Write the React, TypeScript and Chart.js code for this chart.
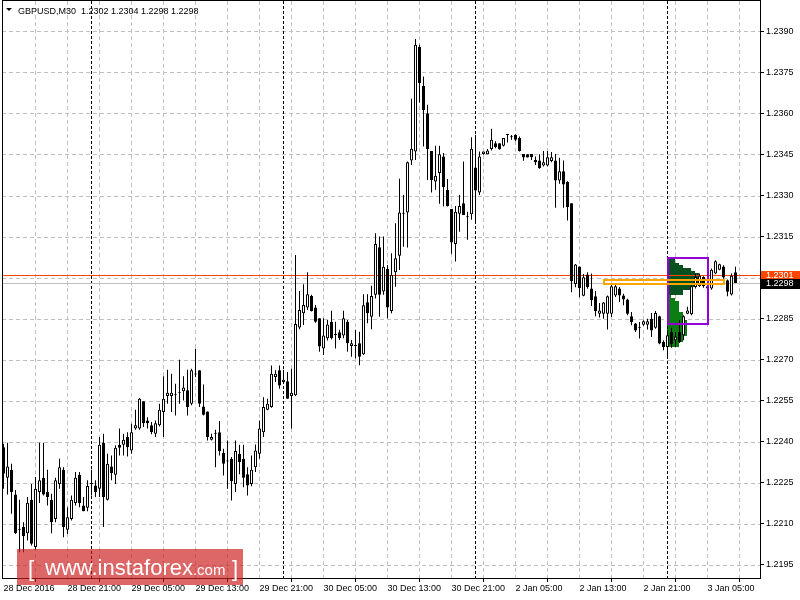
import React, { useEffect, useRef } from 'react';
import { Chart, registerables } from 'chart.js';

Chart.register(...registerables);

// ---- candle data (M30 bars, 28 Dec 13:00 → 3 Jan 08:30) ----
const opens = [
  1.2238, 1.22268, 1.22298, 1.22207, 1.22078, 1.22088, 1.22066, 1.22188, 1.22015, 1.22216,
  1.22268, 1.22216, 1.22188, 1.22118, 1.22246, 1.22298, 1.22078, 1.22118, 1.22176, 1.22279,
  1.22167, 1.22159, 1.22246, 1.2224, 1.22228, 1.22396, 1.22188, 1.2231, 1.22279, 1.22389,
  1.22389, 1.22417, 1.22368, 1.22448, 1.22448, 1.22548, 1.22478, 1.2246, 1.22429, 1.2246,
  1.22509, 1.22567, 1.22567, 1.2257, 1.22579, 1.22585, 1.22588, 1.22539, 1.22646, 1.22661,
  1.22529, 1.22511, 1.22407, 1.22429, 1.22435, 1.22359, 1.22328, 1.22338, 1.22246, 1.22356,
  1.22338, 1.22281, 1.22246, 1.22307, 1.22356, 1.22435, 1.22517, 1.22527, 1.22637, 1.22661,
  1.22618, 1.22621, 1.22567, 1.2257, 1.22818, 1.2287, 1.22891, 1.22933, 1.22891, 1.22851,
  1.22741, 1.22778, 1.22839, 1.2279, 1.228, 1.22788, 1.22839, 1.2275, 1.2275, 1.2276,
  1.2272, 1.2291, 1.22857, 1.22937, 1.23111, 1.22949, 1.23032, 1.22878, 1.2302, 1.2308,
  1.23233, 1.23238, 1.23428, 1.23461, 1.23843, 1.23701, 1.23601, 1.23463, 1.23351, 1.23382,
  1.23443, 1.23321, 1.23251, 1.23123, 1.23233, 1.23272, 1.23221, 1.23232, 1.23402, 1.23311,
  1.23451, 1.23451, 1.2347, 1.23491, 1.23491, 1.23482, 1.23521, 1.23513, 1.23521, 1.2351,
  1.23452, 1.23451, 1.23452, 1.2343, 1.23428, 1.2341, 1.2341, 1.23426, 1.23428, 1.23355,
  1.23389, 1.23349, 1.23272, 1.22977, 1.23041, 1.22934, 1.23011, 1.2296, 1.22932, 1.22868,
  1.22868, 1.22868, 1.22868, 1.22935, 1.2296, 1.22935, 1.2292, 1.22859, 1.22832, 1.22817,
  1.22828, 1.22828, 1.2285, 1.22817, 1.22859, 1.22765, 1.22746, 1.22801, 1.22771, 1.22801,
  1.22789, 1.22868, 1.22866, 1.22966, 1.22968, 1.23002, 1.2296, 1.2296, 1.23015, 1.23029,
  1.23041, 1.2299, 1.22938, 1.2302,
];
const highs = [
  1.22393, 1.22396, 1.2232, 1.22224, 1.22188, 1.22106, 1.22198, 1.22246, 1.22271, 1.22396,
  1.22396, 1.22298, 1.2221, 1.22268, 1.22338, 1.22307, 1.22161, 1.22204, 1.22289, 1.22289,
  1.22198, 1.22259, 1.22298, 1.22259, 1.22417, 1.22429, 1.22356, 1.2235, 1.22387, 1.22448,
  1.22429, 1.22435, 1.22466, 1.22517, 1.2256, 1.22548, 1.2249, 1.22472, 1.22478, 1.22539,
  1.22639, 1.22663, 1.22649, 1.22612, 1.227, 1.22639, 1.22663, 1.22667, 1.2274, 1.22661,
  1.22609, 1.22511, 1.22429, 1.22444, 1.22476, 1.22374, 1.22405, 1.22344, 1.22405, 1.22389,
  1.22389, 1.22307, 1.2235, 1.2239, 1.22478, 1.22563, 1.22557, 1.22679, 1.22661, 1.22679,
  1.22663, 1.22655, 1.22667, 1.23083, 1.22951, 1.22976, 1.2302, 1.22937, 1.229, 1.22851,
  1.22851, 1.22845, 1.22879, 1.22839, 1.22809, 1.22879, 1.22845, 1.22772, 1.22809, 1.22802,
  1.22939, 1.22939, 1.2297, 1.23162, 1.2315, 1.2315, 1.23046, 1.23089, 1.23199, 1.23361,
  1.23302, 1.23424, 1.23654, 1.23872, 1.23851, 1.23735, 1.23632, 1.23463, 1.23482, 1.23482,
  1.23455, 1.2336, 1.23251, 1.23262, 1.23302, 1.23424, 1.23241, 1.23513, 1.23521, 1.23461,
  1.23461, 1.2347, 1.23544, 1.23498, 1.23491, 1.2351, 1.23521, 1.23521, 1.23524, 1.23516,
  1.23452, 1.23451, 1.23452, 1.23443, 1.23451, 1.23463, 1.23463, 1.23459, 1.23452, 1.23438,
  1.23428, 1.23352, 1.23272, 1.2305, 1.23041, 1.23013, 1.2302, 1.23015, 1.22951, 1.22907,
  1.22911, 1.22935, 1.22978, 1.22978, 1.22966, 1.22941, 1.22923, 1.22874, 1.22834, 1.22838,
  1.22844, 1.2285, 1.22871, 1.22878, 1.22861, 1.22771, 1.22807, 1.22817, 1.22801, 1.22844,
  1.22862, 1.22893, 1.22972, 1.23015, 1.23015, 1.23005, 1.22972, 1.23033, 1.23063, 1.23051,
  1.23045, 1.22993, 1.23015, 1.2304,
];
const lows = [
  1.22228, 1.22207, 1.22137, 1.22063, 1.21996, 1.21996, 1.22039, 1.22021, 1.22005, 1.22176,
  1.22204, 1.22167, 1.22066, 1.22106, 1.22228, 1.22051, 1.22063, 1.22112, 1.22167, 1.22161,
  1.22146, 1.22146, 1.22204, 1.22198, 1.22198, 1.22088, 1.22185, 1.22259, 1.22246, 1.2235,
  1.2235, 1.22346, 1.22356, 1.22444, 1.22444, 1.22454, 1.22448, 1.22427, 1.22417, 1.22456,
  1.22417, 1.22539, 1.22509, 1.22496, 1.22539, 1.22551, 1.22496, 1.22533, 1.22637, 1.22527,
  1.22496, 1.22405, 1.22405, 1.22307, 1.2235, 1.22277, 1.22228, 1.22185, 1.22216, 1.22281,
  1.22234, 1.22204, 1.22237, 1.22289, 1.22338, 1.22417, 1.22515, 1.22524, 1.22618, 1.22594,
  1.22612, 1.22557, 1.22448, 1.22567, 1.22811, 1.22827, 1.22882, 1.22876, 1.22835, 1.22729,
  1.22717, 1.2277, 1.22774, 1.22741, 1.22772, 1.22778, 1.22729, 1.22711, 1.22705, 1.2268,
  1.22717, 1.22833, 1.22811, 1.22924, 1.22857, 1.22937, 1.22851, 1.2287, 1.22967, 1.23028,
  1.23113, 1.2311, 1.23412, 1.2343, 1.2364, 1.23479, 1.23357, 1.23311, 1.23321, 1.2327,
  1.2326, 1.2326, 1.23087, 1.23059, 1.23168, 1.23229, 1.23138, 1.23211, 1.23205, 1.23302,
  1.23449, 1.23451, 1.23465, 1.23473, 1.23467, 1.23479, 1.23494, 1.23504, 1.23498, 1.23461,
  1.23427, 1.23439, 1.2343, 1.23412, 1.23398, 1.23406, 1.23406, 1.23422, 1.23255, 1.23343,
  1.23255, 1.23209, 1.22946, 1.22965, 1.22928, 1.22932, 1.22959, 1.22896, 1.22859, 1.22854,
  1.2285, 1.2281, 1.22856, 1.22929, 1.22911, 1.22899, 1.22862, 1.22826, 1.22801, 1.22777,
  1.22824, 1.2281, 1.22783, 1.22813, 1.22756, 1.22734, 1.22712, 1.22744, 1.22746, 1.22761,
  1.22771, 1.22866, 1.22862, 1.2296, 1.22966, 1.22963, 1.22956, 1.22956, 1.23012, 1.23027,
  1.22996, 1.22932, 1.22935, 1.2298,
];
const closes = [
  1.22283, 1.2231, 1.22216, 1.22066, 1.22078, 1.22055, 1.22177, 1.22027, 1.22228, 1.22259,
  1.22207, 1.22198, 1.22106, 1.22259, 1.22307, 1.22088, 1.22124, 1.22188, 1.22268, 1.22176,
  1.22146, 1.22238, 1.22246, 1.22216, 1.22389, 1.22198, 1.2232, 1.22285, 1.22378, 1.22378,
  1.22407, 1.2238, 1.22435, 1.2246, 1.22557, 1.22468, 1.22468, 1.22435, 1.22468, 1.22517,
  1.22557, 1.22579, 1.22579, 1.2257, 1.22579, 1.22598, 1.22527, 1.22661, 1.22649, 1.22539,
  1.22499, 1.22417, 1.22417, 1.22429, 1.22365, 1.2232, 1.22328, 1.22256, 1.22366, 1.22326,
  1.22268, 1.2224, 1.22298, 1.22368, 1.22448, 1.22527, 1.22539, 1.22649, 1.22649, 1.22606,
  1.22627, 1.22557, 1.22579, 1.2283, 1.22882, 1.229, 1.22939, 1.22878, 1.22839, 1.22748,
  1.22788, 1.22829, 1.22778, 1.2279, 1.22778, 1.22851, 1.2276, 1.2276, 1.2275, 1.22711,
  1.22899, 1.2287, 1.22933, 1.23123, 1.22937, 1.2304, 1.22891, 1.2301, 1.23071, 1.23238,
  1.23233, 1.23422, 1.23471, 1.23851, 1.23711, 1.23613, 1.2347, 1.23357, 1.23372, 1.23451,
  1.2333, 1.23262, 1.23128, 1.23241, 1.23262, 1.23229, 1.23221, 1.23471, 1.23318, 1.23443,
  1.23461, 1.23465, 1.23504, 1.23477, 1.2347, 1.2351, 1.23521, 1.23513, 1.23504, 1.23463,
  1.23439, 1.23439, 1.2344, 1.23422, 1.234, 1.23422, 1.2344, 1.2344, 1.23355, 1.23389,
  1.2334, 1.23257, 1.22987, 1.23048, 1.22962, 1.23001, 1.22965, 1.22917, 1.22878, 1.2288,
  1.22909, 1.22932, 1.22968, 1.22968, 1.22935, 1.2292, 1.22868, 1.22838, 1.22807, 1.22817,
  1.2284, 1.2284, 1.22807, 1.22871, 1.22759, 1.22746, 1.22789, 1.22756, 1.22785, 1.22765,
  1.22859, 1.2288, 1.22968, 1.23002, 1.23007, 1.22968, 1.22968, 1.23029, 1.2306, 1.23049,
  1.23, 1.22948, 1.23007, 1.2298,
];

// ---- axes ----
const xTickIndex = [0, 16, 32, 48, 64, 80, 96, 112, 128, 144, 160, 176];
const xTickLabels = [
  '28 Dec 2016', '28 Dec 21:00', '29 Dec 05:00', '29 Dec 13:00', '29 Dec 21:00', '30 Dec 05:00',
  '30 Dec 13:00', '30 Dec 21:00', '2 Jan 05:00', '2 Jan 13:00', '2 Jan 21:00', '3 Jan 05:00',
];
const xGridIndex = [8, 16, 24, 32, 40, 48, 56, 64, 72, 80, 88, 96, 104, 112, 120, 128, 136, 144, 152, 160, 168, 176, 184];
const daySeparators = [22, 70, 118, 166];
const yTicks = [
  1.2195, 1.221, 1.2225, 1.224, 1.2255, 1.227, 1.2285, 1.23, 1.2315, 1.233, 1.2345, 1.236, 1.2375, 1.239,
];

// ---- price profile (volume at price) ----
const profilePrices = [
  1.2307, 1.2306, 1.2305, 1.2304, 1.2303, 1.2302, 1.2301, 1.23, 1.2299, 1.2298, 1.2297,
  1.2296, 1.2295, 1.2294, 1.2293, 1.2292, 1.2291, 1.229, 1.2289, 1.2288, 1.2287, 1.2286,
  1.2285, 1.2284, 1.2283, 1.2282, 1.2281, 1.228, 1.2279, 1.2278, 1.2277, 1.2276, 1.2275,
];
const profileBars = [
  2, 2, 3, 4, 6, 7, 8, 8, 9, 9, 7, 6, 4, 4, 1, 2, 3, 3, 3, 3, 4, 4, 4, 5, 5, 5, 5, 5, 5, 4, 4, 3, 3,
];
const profileStartBar = 166;
const profileSplitPrice = 1.22935;
const profileBoxBars = [166, 176];
const profileBoxPrices = [1.2307, 1.2283];
const levelBoxBars = [150, 180];
const levelBoxPrices = [1.2299, 1.22978];

const symbolTitle = 'GBPUSD,M30';
const lastOHLC = [1.2302, 1.2304, 1.2298, 1.2298];
const askPrice = 1.2301;
const bidPrice = 1.2298;

const FONT_FAMILY = '"Liberation Sans", Arial, sans-serif';
const FONT_SIZE = 9;

const overlayPlugin = {
  id: 'mt4overlay',
  beforeDatasetsDraw(chart: any) {
    const { ctx, chartArea: a, scales } = chart;
    const xs = scales.x;
    const ys = scales.y;
    ctx.save();
    ctx.lineWidth = 1;
    // grid
    ctx.strokeStyle = '#c0c0c0';
    ctx.setLineDash([4, 3]);
    yTicks.forEach((v) => {
      const yy = Math.round(ys.getPixelForValue(v)) + 0.5;
      ctx.beginPath();
      ctx.moveTo(a.left, yy);
      ctx.lineTo(a.right, yy);
      ctx.stroke();
    });
    xGridIndex.forEach((i) => {
      const xx = Math.floor(xs.getPixelForValue(i)) + 0.5;
      ctx.beginPath();
      ctx.moveTo(xx, a.top);
      ctx.lineTo(xx, a.bottom);
      ctx.stroke();
    });
    // profile histogram
    ctx.setLineDash([]);
    const left = Math.floor(xs.getPixelForValue(profileStartBar));
    profilePrices.forEach((p, k) => {
      const top = Math.round(ys.getPixelForValue(p + 0.00005));
      const bot = Math.round(ys.getPixelForValue(p - 0.00005));
      const right = Math.floor(xs.getPixelForValue(profileStartBar + profileBars[k]));
      ctx.fillStyle = p > profileSplitPrice ? '#07501f' : '#0b7d12';
      ctx.fillRect(left, top, right - left, bot - top);
    });
    // day separators
    ctx.strokeStyle = '#000';
    ctx.setLineDash([3, 2]);
    daySeparators.forEach((i) => {
      const xx = Math.floor(xs.getPixelForValue(i)) + 0.5;
      ctx.beginPath();
      ctx.moveTo(xx, a.top);
      ctx.lineTo(xx, a.bottom);
      ctx.stroke();
    });
    ctx.setLineDash([]);
    // bid / ask lines
    const ya = Math.round(ys.getPixelForValue(askPrice)) + 0.5;
    const yb = Math.round(ys.getPixelForValue(bidPrice)) + 0.5;
    ctx.strokeStyle = '#ff4500';
    ctx.beginPath();
    ctx.moveTo(a.left, ya);
    ctx.lineTo(a.right, ya);
    ctx.stroke();
    ctx.strokeStyle = '#c0c0c0';
    ctx.beginPath();
    ctx.moveTo(a.left, yb);
    ctx.lineTo(a.right, yb);
    ctx.stroke();
    ctx.restore();
  },
  afterDatasetsDraw(chart: any) {
    const { ctx, chartArea: a, scales } = chart;
    const xs = scales.x;
    const ys = scales.y;
    ctx.save();
    // rectangles
    ctx.lineWidth = 2;
    ctx.strokeStyle = '#9400d3';
    {
      const l = Math.round(xs.getPixelForValue(profileBoxBars[0]));
      const r = Math.round(xs.getPixelForValue(profileBoxBars[1]));
      const t = Math.round(ys.getPixelForValue(profileBoxPrices[0]));
      const b = Math.round(ys.getPixelForValue(profileBoxPrices[1]));
      ctx.strokeRect(l, t, r - l, b - t);
    }
    ctx.strokeStyle = '#ffa500';
    {
      const l = Math.round(xs.getPixelForValue(levelBoxBars[0]));
      const r = Math.round(xs.getPixelForValue(levelBoxBars[1]));
      const t = Math.round(ys.getPixelForValue(levelBoxPrices[0]));
      const b = Math.round(ys.getPixelForValue(levelBoxPrices[1]));
      ctx.strokeRect(l, t, r - l, b - t);
    }
    // frame
    ctx.lineWidth = 1;
    ctx.strokeStyle = '#000';
    ctx.strokeRect(a.left + 0.5, a.top - 0.5, a.right - a.left, a.bottom - a.top + 1);
    // title
    ctx.fillStyle = '#000';
    ctx.beginPath();
    ctx.moveTo(6, 8);
    ctx.lineTo(12, 8);
    ctx.lineTo(9, 11);
    ctx.closePath();
    ctx.fill();
    ctx.font = FONT_SIZE + 'px ' + FONT_FAMILY;
    ctx.textBaseline = 'alphabetic';
    ctx.textAlign = 'left';
    ctx.fillText(symbolTitle + '  ' + lastOHLC.map((v) => v.toFixed(4)).join(' '), 18, 14);
    // right price labels
    const ya = Math.round(ys.getPixelForValue(askPrice));
    const yb = Math.round(ys.getPixelForValue(bidPrice));
    ctx.fillStyle = '#ff4500';
    ctx.fillRect(a.right + 1, ya - 4, 39, 9);
    ctx.fillStyle = '#000';
    ctx.fillRect(a.right + 1, yb - 4, 39, 10);
    ctx.fillStyle = '#fff';
    ctx.textBaseline = 'middle';
    ctx.fillText(askPrice.toFixed(4), a.right + 6, ya + 0.5);
    ctx.fillText(bidPrice.toFixed(4), a.right + 6, yb + 1);
    // watermark
    ctx.fillStyle = 'rgba(205, 30, 30, 0.68)';
    ctx.fillRect(17, 549, 226, 36);
    ctx.fillStyle = '#ffffff';
    ctx.textBaseline = 'alphabetic';
    ctx.font = '22px "Liberation Sans", Arial, sans-serif';
    ctx.fillText('[', 28, 576);
    ctx.fillText('www.instaforex', 45, 575);
    const w = ctx.measureText('www.instaforex').width;
    ctx.font = '15px "Liberation Sans", Arial, sans-serif';
    ctx.fillText('.com', 45 + w, 575);
    ctx.font = '22px "Liberation Sans", Arial, sans-serif';
    ctx.fillText(']', 232, 576);
    ctx.restore();
  },
};

export default function App() {
  const ref = useRef<HTMLCanvasElement>(null);
  useEffect(() => {
    document.body.style.margin = '0';
    const canvas = ref.current;
    if (!canvas) return;
    const idx = opens.map((_, i) => i);
    const bodies = idx.map((i) => ({ x: i, y: [opens[i], closes[i]] }));
    const wicks = idx.map((i) => ({ x: i, y: [lows[i], highs[i]] }));
    const bodyColors = idx.map((i) => (closes[i] >= opens[i] ? '#ffffff' : '#000000'));
    const font = { family: FONT_FAMILY, size: FONT_SIZE };
    const chart = new Chart(canvas, {
      type: 'bar',
      data: {
        datasets: [
          {
            data: bodies as any,
            backgroundColor: bodyColors,
            borderColor: '#000000',
            borderWidth: 1,
            borderSkipped: false,
            barThickness: 3,
            grouped: false,
            minBarLength: 1,
            inflateAmount: 0,
            order: 0,
          } as any,
          {
            data: wicks as any,
            backgroundColor: '#000000',
            borderWidth: 0,
            barThickness: 1,
            grouped: false,
            inflateAmount: 0,
            order: 1,
          } as any,
        ],
      },
      options: {
        animation: false,
        responsive: false,
        devicePixelRatio: 1,
        layout: { padding: { left: 2, top: 1, right: 0, bottom: 0 } },
        plugins: { legend: { display: false }, tooltip: { enabled: false } },
        scales: {
          x: {
            type: 'linear',
            min: -0.375,
            max: 189.125,
            offset: false,
            afterBuildTicks: (s: any) => {
              s.ticks = xTickIndex.map((v) => ({ value: v }));
            },
            afterFit: (s: any) => {
              s.height = 22;
              s.paddingLeft = 0;
              s.paddingRight = 0;
            },
            grid: {
              drawOnChartArea: false,
              drawTicks: true,
              tickLength: 4,
              color: 'rgba(0,0,0,0)',
              tickColor: '#000000',
            },
            border: { display: false },
            ticks: {
              autoSkip: false,
              maxRotation: 0,
              minRotation: 0,
              align: 'start',
              padding: 1,
              color: '#000000',
              font,
              callback: (v: any) => {
                const k = xTickIndex.indexOf(Number(v));
                return k >= 0 ? xTickLabels[k] : '';
              },
            },
          } as any,
          y: {
            type: 'linear',
            position: 'right',
            min: 1.21902,
            max: 1.24011,
            afterBuildTicks: (s: any) => {
              s.ticks = yTicks.map((v) => ({ value: v }));
            },
            afterFit: (s: any) => {
              s.width = 40;
              s.paddingTop = 0;
              s.paddingBottom = 0;
            },
            grid: {
              drawOnChartArea: false,
              drawTicks: true,
              tickLength: 4,
              color: 'rgba(0,0,0,0)',
              tickColor: '#000000',
            },
            border: { display: false },
            ticks: {
              autoSkip: false,
              padding: 2,
              color: '#000000',
              font,
              callback: (v: any) => Number(v).toFixed(4),
            },
          } as any,
        },
      },
      plugins: [overlayPlugin],
    });
    return () => chart.destroy();
  }, []);
  return <canvas ref={ref} width={800} height={600} style={{ display: 'block', width: 800, height: 600 }} />;
}
